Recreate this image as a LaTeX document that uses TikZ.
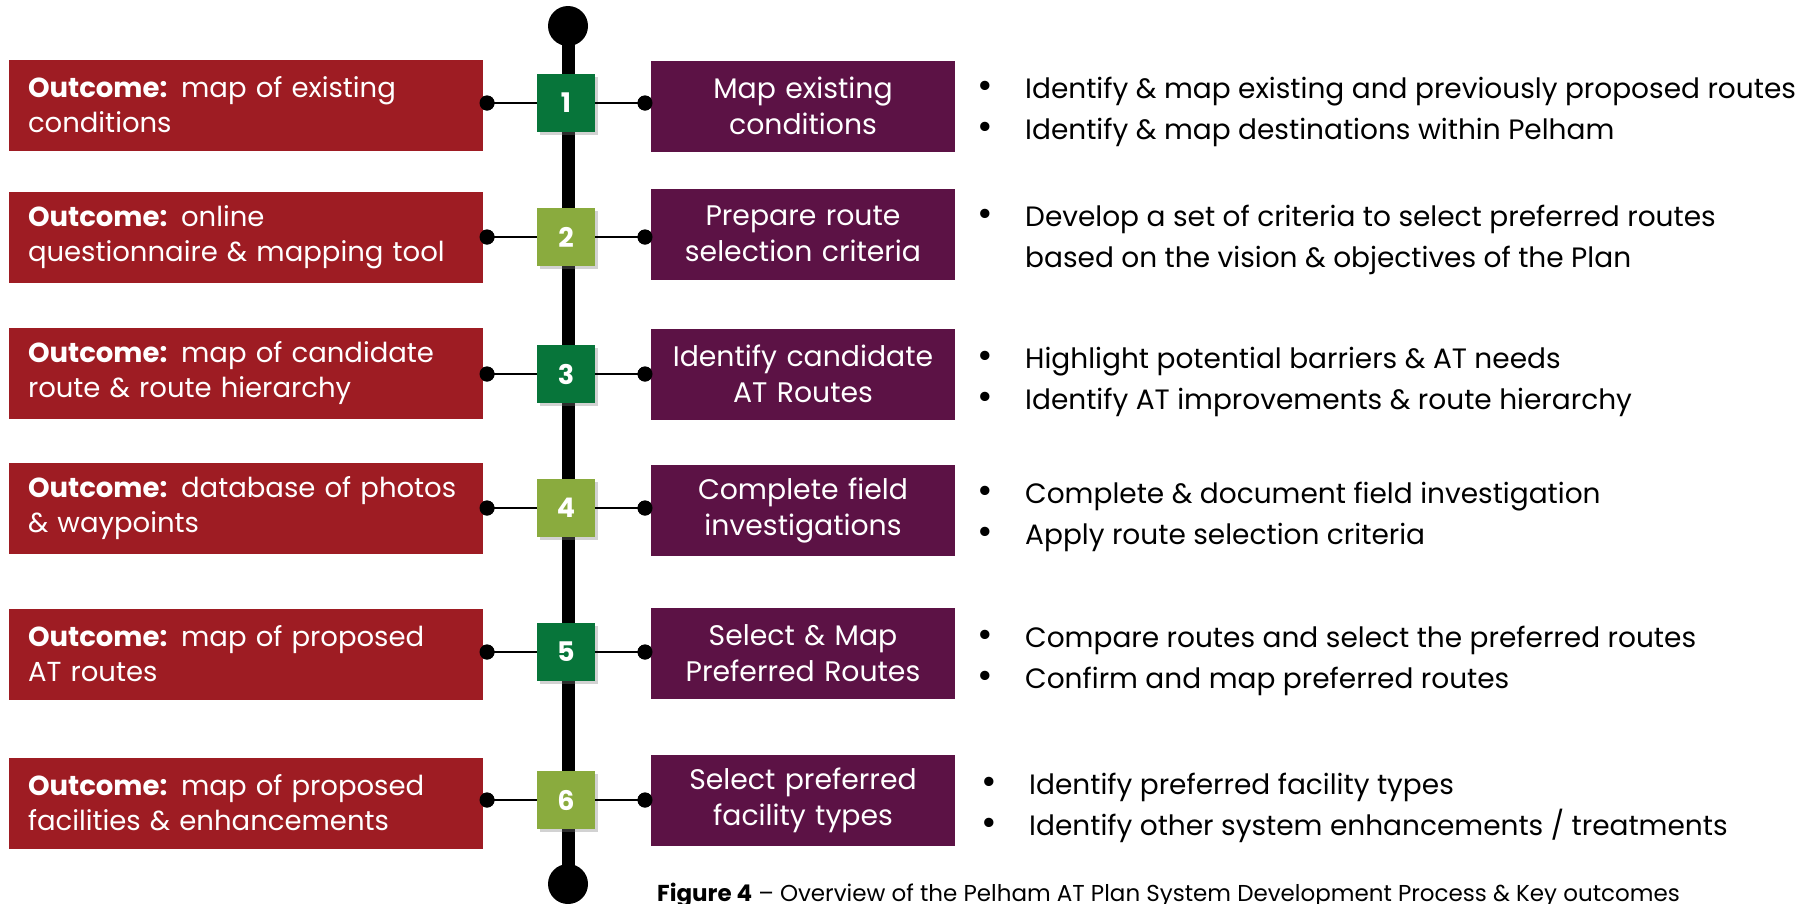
\documentclass[tikz,border=0pt]{standalone}
\usepackage{fontspec}
\setmainfont{Poppins}
\usetikzlibrary{shadows}
\definecolor{outred}{HTML}{9E1C23}
\definecolor{steppurple}{HTML}{5C1245}
\definecolor{dkgreen}{HTML}{07753A}
\definecolor{ltgreen}{HTML}{8AAB3E}
\begin{document}
\begin{tikzpicture}[x=1pt,y=-1pt,
  outbox/.style={fill=outred, text=white, minimum width=474pt, minimum height=91pt,
    text width=436pt, align=left, inner sep=0pt, font=\fontsize{27.5}{35}\selectfont},
  stepbox/.style={fill=steppurple, text=white, minimum width=304pt, minimum height=91pt,
    text width=300pt, align=center, inner sep=0pt, font=\fontsize{28.3}{36}\selectfont},
  numbox/.style={minimum size=58pt, inner sep=0pt, text=white,
    font=\fontsize{27}{30}\selectfont\bfseries,
    drop shadow={opacity=0.35, shadow xshift=3pt, shadow yshift=-3pt}},
  dkbox/.style={numbox, fill=dkgreen},
  ltbox/.style={numbox, fill=ltgreen},
  dotnode/.style={circle, fill=black, minimum size=15pt, inner sep=0pt},
  endnode/.style={circle, fill=black, minimum size=40pt, inner sep=0pt},
  conn/.style={draw=black, line width=2.2pt},
  spine/.style={draw=black, line width=13pt},
  bullets/.style={anchor=west, align=left, inner sep=0pt, text=black,
    font=\fontsize{28}{41.5}\selectfont},
  caption/.style={anchor=base west, inner sep=0pt, text=black, font=\fontsize{23}{26}\selectfont}
]
\useasboundingbox (0,0) rectangle (1815,903);
\fill[white] (0,0) rectangle (1815,903);
\newcommand{\bl}{\makebox[49pt][l]{\hspace*{1pt}\scalebox{1.35}{\textbullet}}}
\newcommand{\bi}{\hspace*{49pt}}

% spine
\node[endnode] (top) at (568,26) {};
\node[endnode] (bot) at (568,884) {};
\draw[spine] (top.center) -- (bot.center);

% rows
\foreach \i/\ry/\gy/\py/\gs in {1/105/103/106/dkbox, 2/237/237/234/ltbox, 3/373/374/374/dkbox, 4/508/508/510/ltbox, 5/654/652/653/dkbox, 6/803/800/800/ltbox}{
  \coordinate (rc\i) at (246,\ry);
  \coordinate (pc\i) at (803,\py);
  \node[\gs] (g\i) at (566,\gy) {\i};
  \node[dotnode] (dl\i) at (487,\gy) {};
  \node[dotnode] (dr\i) at (645,\gy) {};
}

\node[outbox] (o1) at (rc1) {\textbf{Outcome:} map of existing\\conditions};
\node[outbox] (o2) at (rc2) {\textbf{Outcome:} online\\questionnaire \& mapping tool};
\node[outbox] (o3) at (rc3) {\textbf{Outcome:} map of candidate\\route \& route hierarchy};
\node[outbox] (o4) at (rc4) {\textbf{Outcome:} database of photos\\\& waypoints};
\node[outbox] (o5) at (rc5) {\textbf{Outcome:} map of proposed\\AT routes};
\node[outbox] (o6) at (rc6) {\textbf{Outcome:} map of proposed\\facilities \& enhancements};

\node[stepbox] (s1) at (pc1) {Map existing\\conditions};
\node[stepbox] (s2) at (pc2) {Prepare route\\selection criteria};
\node[stepbox] (s3) at (pc3) {Identify candidate\\AT Routes};
\node[stepbox] (s4) at (pc4) {Complete field\\investigations};
\node[stepbox] (s5) at (pc5) {Select \& Map\\Preferred Routes};
\node[stepbox] (s6) at (pc6) {Select preferred\\facility types};

\foreach \i in {1,...,6}{
  \draw[conn] (dl\i.center) -- (g\i.west);
  \draw[conn] (g\i.east) -- (dr\i.center);
}
\foreach \i in {1,...,6}{
  \node[dotnode] at (dl\i) {};
  \node[dotnode] at (dr\i) {};
}

\node[bullets] (b1) at (976,112) {\bl Identify \& map existing and previously proposed routes\\\bl Identify \& map destinations within Pelham};
\node[bullets] (b2) at (976,240) {\bl Develop a set of criteria to select preferred routes\\\bi based on the vision \& objectives of the Plan};
\node[bullets] (b3) at (976,382) {\bl Highlight potential barriers \& AT needs\\\bl Identify AT improvements \& route hierarchy};
\node[bullets] (b4) at (976,517) {\bl Complete \& document field investigation\\\bl Apply route selection criteria};
\node[bullets] (b5) at (976,661) {\bl Compare routes and select the preferred routes\\\bl Confirm and map preferred routes};
\node[bullets] (b6) at (980,808) {\bl Identify preferred facility types\\\bl Identify other system enhancements / treatments};

\node[caption] (cap) at (657,901) {\textbf{Figure 4} – Overview of the Pelham AT Plan System Development Process \& Key outcomes};
\end{tikzpicture}
\end{document}
